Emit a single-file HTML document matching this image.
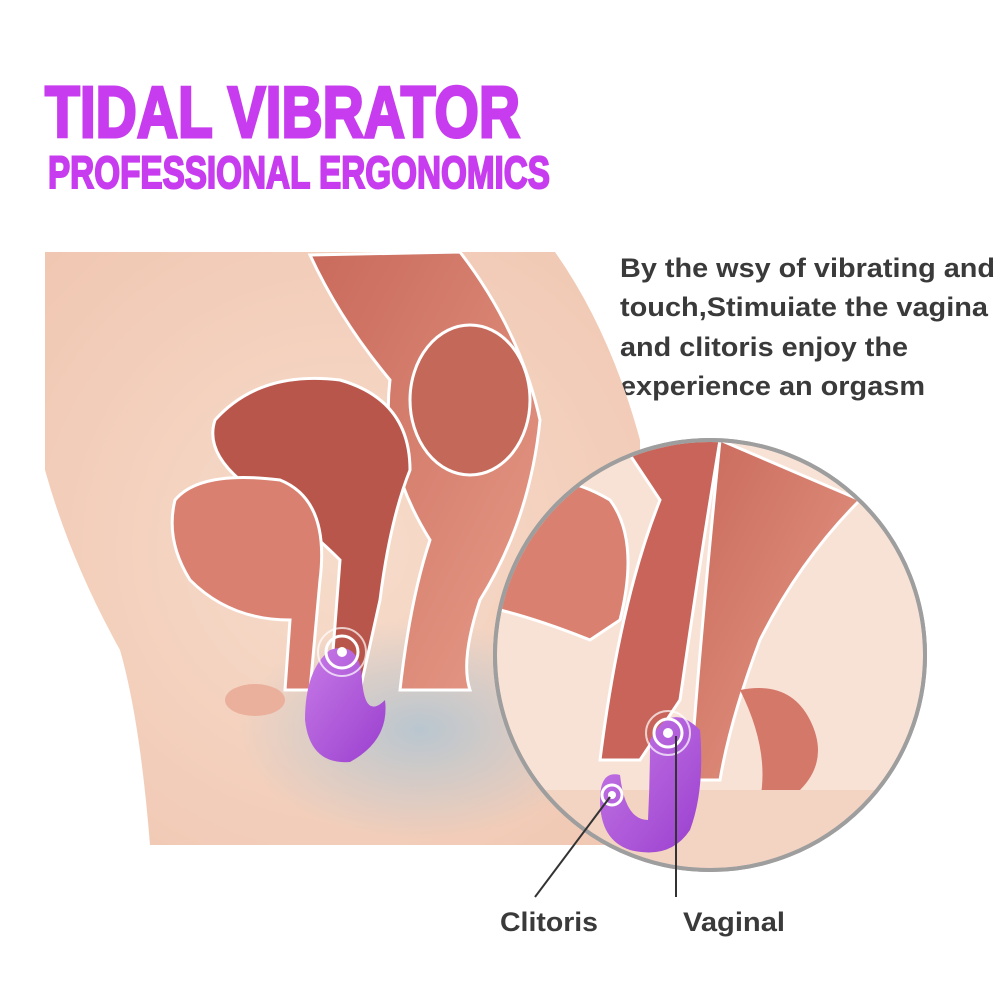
<!DOCTYPE html>
<html><head><meta charset="utf-8"><style>
html,body{margin:0;padding:0;background:#fff;}
svg{display:block}
</style></head><body>
<svg width="1000" height="1000" viewBox="0 0 1000 1000" xmlns="http://www.w3.org/2000/svg">
<defs>
<radialGradient id="skin" cx="0.5" cy="0.5" r="0.7">
<stop offset="0" stop-color="#f7dccb"/><stop offset="1" stop-color="#f0c7b2"/></radialGradient>
<radialGradient id="blue" cx="0.5" cy="0.5" r="0.5">
<stop offset="0" stop-color="#b9c6cf"/><stop offset="1" stop-color="#b9c6cf" stop-opacity="0"/></radialGradient>
<linearGradient id="org" x1="0" y1="0" x2="1" y2="1">
<stop offset="0" stop-color="#c96a5c"/><stop offset="1" stop-color="#e79b88"/></linearGradient>
<linearGradient id="vib" x1="0" y1="0" x2="1" y2="1">
<stop offset="0" stop-color="#c77ae6"/><stop offset="1" stop-color="#9a3fcf"/></linearGradient>
<clipPath id="circ"><circle cx="710" cy="655" r="213"/></clipPath>
</defs>

<text x="45" y="137" font-family="Liberation Sans, sans-serif" font-weight="bold" font-size="72" fill="#c83cf0" stroke="#c83cf0" stroke-width="3" textLength="475" lengthAdjust="spacingAndGlyphs">TIDAL VIBRATOR</text>
<text x="48" y="188" font-family="Liberation Sans, sans-serif" font-weight="bold" font-size="45" fill="#c83cf0" stroke="#c83cf0" stroke-width="2" textLength="502" lengthAdjust="spacingAndGlyphs">PROFESSIONAL ERGONOMICS</text>

<g font-family="Liberation Sans, sans-serif" font-weight="bold" font-size="27" fill="#3a3a3a">
<text x="620" y="277" textLength="375" lengthAdjust="spacingAndGlyphs">By the wsy of vibrating and</text>
<text x="620" y="316" textLength="368" lengthAdjust="spacingAndGlyphs">touch,Stimuiate the vagina</text>
<text x="620" y="356" textLength="288" lengthAdjust="spacingAndGlyphs">and clitoris enjoy the</text>
<text x="620" y="395" textLength="305" lengthAdjust="spacingAndGlyphs">experience an orgasm</text>
</g>

<path d="M45 252 L555 252 Q610 330 640 440 L640 845 L150 845 Q140 720 120 650 Q70 560 45 470 Z" fill="url(#skin)"/>
<ellipse cx="420" cy="730" rx="180" ry="110" fill="url(#blue)"/>
<path d="M310 255 L460 252 Q520 330 540 420 Q530 520 480 600 Q460 660 470 690 L400 690 Q410 600 430 540 Q380 460 390 380 Q340 320 310 255 Z" fill="url(#org)" stroke="#fff" stroke-width="3"/>
<ellipse cx="470" cy="400" rx="60" ry="75" fill="#c4685a" stroke="#fff" stroke-width="3"/>
<path d="M215 420 Q260 370 340 380 Q410 400 410 470 Q390 520 380 600 L360 690 L330 690 L340 560 Q300 520 240 480 Q205 450 215 420 Z" fill="#b9564c" stroke="#fff" stroke-width="3"/>
<path d="M175 500 Q200 470 280 480 Q330 500 320 580 L310 690 L285 690 L290 620 Q230 620 190 580 Q165 540 175 500 Z" fill="#d98070" stroke="#fff" stroke-width="3"/>
<ellipse cx="255" cy="700" rx="30" ry="16" fill="#eab09c"/>
<path d="M330 650 Q360 640 362 680 Q365 720 385 700 Q390 740 350 762 Q310 765 305 720 Q305 670 330 650 Z" fill="url(#vib)"/>
<circle cx="342" cy="652" r="16" fill="none" stroke="#fff" stroke-width="3"/>
<circle cx="342" cy="652" r="24" fill="none" stroke="#fff" stroke-width="2" opacity="0.7"/>
<circle cx="342" cy="652" r="5" fill="#fff"/>

<circle cx="710" cy="655" r="215" fill="#fde8df" stroke="#9e9e9e" stroke-width="4"/>
<g clip-path="url(#circ)">
<rect x="490" y="430" width="440" height="440" fill="#f8e2d6"/>
<path d="M500 480 Q560 470 610 500 Q640 540 620 620 L590 640 Q540 620 500 610 Z" fill="#d98070" stroke="#fff" stroke-width="3"/>
<path d="M620 440 L720 440 Q700 560 680 700 L640 760 L600 760 Q620 600 660 500 Z" fill="#c9645a" stroke="#fff" stroke-width="3"/>
<path d="M720 440 L860 500 Q800 560 760 640 Q730 720 720 780 L690 780 Q700 640 720 440 Z" fill="url(#org)" stroke="#fff" stroke-width="3"/>
<path d="M740 690 Q790 680 810 720 Q830 760 800 790 L760 800 Q770 750 740 690 Z" fill="#d4786a"/>
<rect x="490" y="790" width="440" height="80" fill="#f3d3c2"/>
<path d="M650 740 Q670 700 700 730 Q705 790 690 830 Q670 860 630 850 Q600 840 600 800 Q600 770 620 775 Q625 820 648 820 Q650 780 650 740 Z" fill="url(#vib)"/>
<circle cx="668" cy="733" r="14" fill="none" stroke="#fff" stroke-width="3"/>
<circle cx="668" cy="733" r="22" fill="none" stroke="#fff" stroke-width="2" opacity="0.7"/>
<circle cx="668" cy="733" r="5" fill="#fff"/>
<circle cx="612" cy="795" r="10" fill="none" stroke="#fff" stroke-width="3"/>
<circle cx="612" cy="795" r="4" fill="#fff"/>
</g>
<circle cx="710" cy="655" r="215" fill="none" stroke="#9e9e9e" stroke-width="4"/>

<line x1="610" y1="797" x2="535" y2="897" stroke="#333" stroke-width="2"/>
<line x1="676" y1="736" x2="676" y2="897" stroke="#333" stroke-width="2"/>

<g font-family="Liberation Sans, sans-serif" font-weight="bold" font-size="27" fill="#3a3a3a">
<text x="500" y="931" textLength="98" lengthAdjust="spacingAndGlyphs">Clitoris</text>
<text x="683" y="931" textLength="102" lengthAdjust="spacingAndGlyphs">Vaginal</text>
</g>
</svg>
</body></html>
